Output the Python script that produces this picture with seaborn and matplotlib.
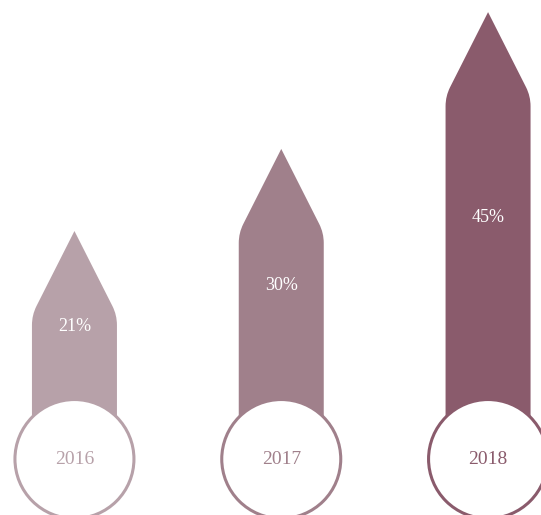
import matplotlib
matplotlib.use("Agg")
import matplotlib.pyplot as plt
import pandas as pd
import seaborn as sns
from matplotlib.path import Path
from matplotlib.patches import PathPatch, Ellipse

# Data
years = ["2016", "2017", "2018"]
shares = [21, 30, 45]
colors = ["#b7a1a9", "#a0808b", "#8a5b6c"]

df = pd.DataFrame({"year": years, "share": shares})

sns.set_theme(style="white")
plt.rcParams["font.family"] = ["Liberation Serif", "DejaVu Serif"]

W, H = 541, 515
fig = plt.figure(figsize=(W / 100, H / 100), dpi=100)
ax = fig.add_axes([0, 0, 1, 1])

sns.barplot(data=df, x="year", y="share", hue="year", palette=colors,
            width=0.411, legend=False, ax=ax, saturation=1)

x_lo, x_hi = -0.360, 2.256
y_lo, y_hi = -10.14, 46.33
ax.set_xlim(x_lo, x_hi)
ax.set_ylim(y_lo, y_hi)
ax.set_axis_off()

# pixel -> data scale factors
px_x = (x_hi - x_lo) / W
px_y = (y_hi - y_lo) / H

tip_h = 84 * px_y          # height of the arrow head
r_px = 10                  # shoulder rounding radius in pixels

# Turn each bar into an arrow with rounded shoulders
bars = list(ax.patches)
for bar in bars:
    x0 = bar.get_x()
    w = bar.get_width()
    h = bar.get_height()
    x1 = x0 + w
    xc = x0 + w / 2
    sh = h - tip_h
    # direction along the slanted edge in pixel space
    dxp, dyp = (w / 2) / px_x, tip_h / px_y
    ln = (dxp ** 2 + dyp ** 2) ** 0.5
    ux, uy = dxp / ln * r_px * px_x, dyp / ln * r_px * px_y
    ry = r_px * px_y
    verts = [
        (x0, 0), (x0, sh - ry),
        (x0, sh), (x0 + ux, sh + uy),
        (xc, h),
        (x1 - ux, sh + uy),
        (x1, sh), (x1, sh - ry),
        (x1, 0), (x0, 0),
    ]
    codes = [Path.MOVETO, Path.LINETO,
             Path.CURVE3, Path.CURVE3,
             Path.LINETO,
             Path.LINETO,
             Path.CURVE3, Path.CURVE3,
             Path.LINETO, Path.CLOSEPOLY]
    arrow = PathPatch(Path(verts, codes), facecolor=bar.get_facecolor(),
                      edgecolor="none", zorder=2)
    ax.add_patch(arrow)
    bar.set_visible(False)

# Value labels inside arrows and year badges below
circ_y = -(459 - 422.5) * px_y
rad_px = 59.5
for bar, year, val, col in zip(bars, years, shares, colors):
    xc = bar.get_x() + bar.get_width() / 2
    ax.text(xc, val / 2, f"{val}%", color="white", fontsize=13,
            ha="center", va="center", zorder=4)
    ax.add_patch(Ellipse((xc, circ_y), 2 * rad_px * px_x, 2 * rad_px * px_y,
                         facecolor="white", edgecolor=col, linewidth=2.2,
                         zorder=5))
    ax.text(xc, circ_y, year, color=col, fontsize=14,
            ha="center", va="center", zorder=6)

fig.savefig("out.png", dpi=100)
